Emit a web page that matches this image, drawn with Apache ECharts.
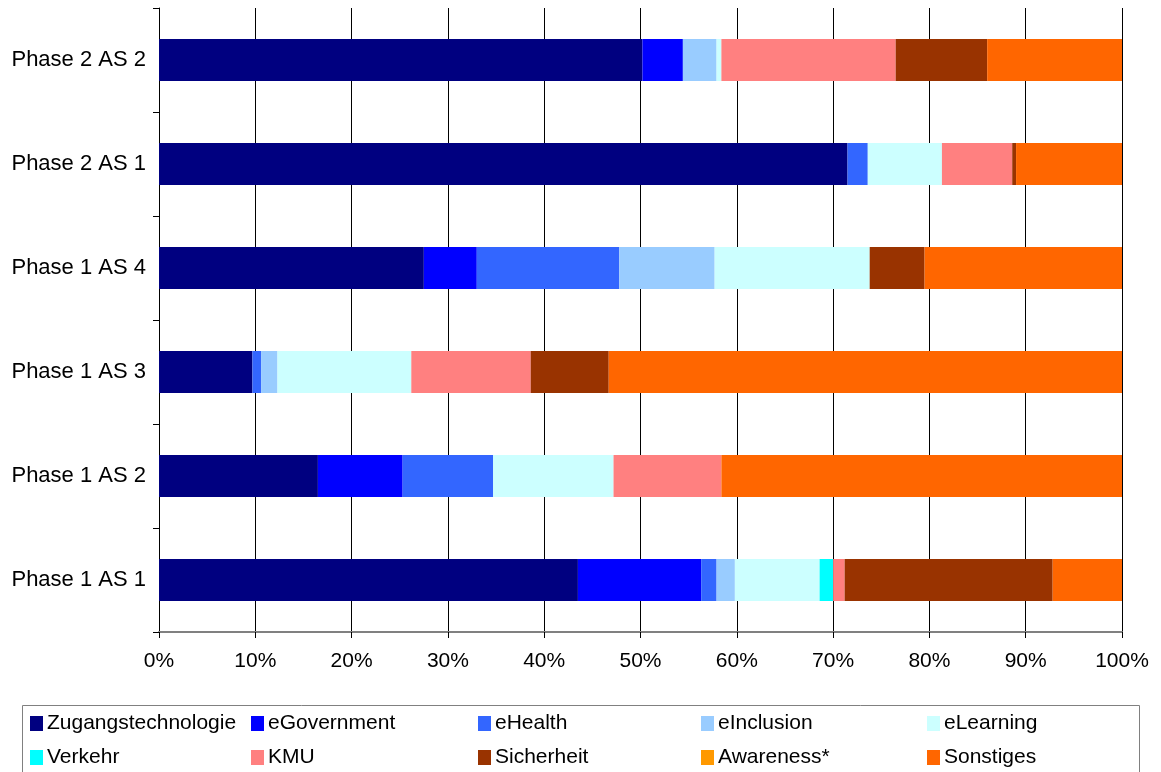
<!DOCTYPE html>
<html>
<head>
<meta charset="utf-8">
<script src="https://cdn.jsdelivr.net/npm/echarts@6/dist/echarts.min.js"></script>
<style>
  html, body { margin: 0; padding: 0; background: #fff; }
  #chart { width: 1161px; height: 772px; }
</style>
</head>
<body>
<div id="chart"></div>
<script>
// bottom to top, as ECharts lays out a category y axis
const phases = ["Phase 1 AS 1", "Phase 1 AS 2", "Phase 1 AS 3", "Phase 1 AS 4", "Phase 2 AS 1", "Phase 2 AS 2"];
const seriesNames = ["Zugangstechnologie", "eGovernment", "eHealth", "eInclusion", "eLearning",
  "Verkehr", "KMU", "Sicherheit", "Awareness*", "Sonstiges"];
const seriesColors = ["#000080", "#0000FF", "#3366FF", "#99CCFF", "#CCFFFF",
  "#00FFFF", "#FF8080", "#993300", "#FF9900", "#FF6600"];

// percent shares per phase, same order as phases
const zugang     = [43.5, 16.5,  9.7, 27.5, 71.5, 50.2];
const eGov       = [12.8,  8.8,  0.0,  5.5,  0.0,  4.2];
const eHealth    = [ 1.6,  9.4,  0.9, 14.8,  2.1,  0.0];
const eInclusion = [ 1.9,  0.0,  1.7,  9.9,  0.0,  3.5];
const eLearning  = [ 8.8, 12.5, 13.9, 16.1,  7.7,  0.5];
const verkehr    = [ 1.4,  0.0,  0.0,  0.0,  0.0,  0.0];
const kmu        = [ 1.2, 11.2, 12.4,  0.0,  7.3, 18.1];
const sicherheit = [21.6,  0.0,  8.1,  5.7,  0.4,  9.5];
const awareness  = [ 0.0,  0.0,  0.0,  0.0,  0.0,  0.0];
const sonstiges  = [ 7.2, 41.6, 53.3, 20.5, 11.0, 14.0];

const values = [zugang, eGov, eHealth, eInclusion, eLearning, verkehr, kmu, sicherheit, awareness, sonstiges];
const xTicks = [0, 10, 20, 30, 40, 50, 60, 70, 80, 90, 100];

const font = "Liberation Sans, Arial, sans-serif";
const chart = echarts.init(document.getElementById("chart"));

// legend sits in a 5 x 2 grid inside a framed box
const legendCols = [30, 251, 478, 701, 927];
const legendRows = [713, 747];
const legends = seriesNames.map((name, i) => ({
  data: [name],
  left: legendCols[i % 5],
  top: legendRows[Math.floor(i / 5)],
  icon: "rect",
  itemWidth: 13,
  itemHeight: 15,
  itemGap: 0,
  padding: 0,
  selectedMode: false,
  textStyle: { fontFamily: font, fontSize: 21, color: "#000", padding: [0, 0, 0, -1] }
}));

chart.setOption({
  animation: false,
  textStyle: { fontFamily: font },
  grid: { left: 159, right: 39, top: 8, bottom: 140 },
  legend: legends,
  graphic: [{
    type: "rect",
    left: 20, top: 703,
    shape: { width: 1117, height: 70 },
    style: { fill: "none", stroke: "#808080", lineWidth: 1 },
    z: -1
  }],
  xAxis: {
    type: "value",
    min: 0, max: 100, interval: 10,
    axisLine: { show: true, lineStyle: { color: "#808080", width: 2 } },
    axisTick: { show: true, length: 6, lineStyle: { color: "#000" } },
    splitLine: { show: true, lineStyle: { color: "#000", width: 1 } },
    axisLabel: {
      fontFamily: font, fontSize: 21, color: "#000", margin: 19,
      formatter: v => xTicks.includes(v) ? v + "%" : ""
    }
  },
  yAxis: {
    type: "category",
    data: phases,
    axisLine: { show: true, lineStyle: { color: "#000", width: 1 } },
    axisTick: { show: true, length: 6, inside: false, lineStyle: { color: "#000" } },
    axisLabel: { fontFamily: font, fontSize: 22, color: "#000", margin: 13 }
  },
  series: seriesNames.map((name, i) => ({
    name: name,
    type: "bar",
    stack: "total",
    barWidth: 42,
    itemStyle: { color: seriesColors[i] },
    data: values[i]
  }))
});
</script>
</body>
</html>
